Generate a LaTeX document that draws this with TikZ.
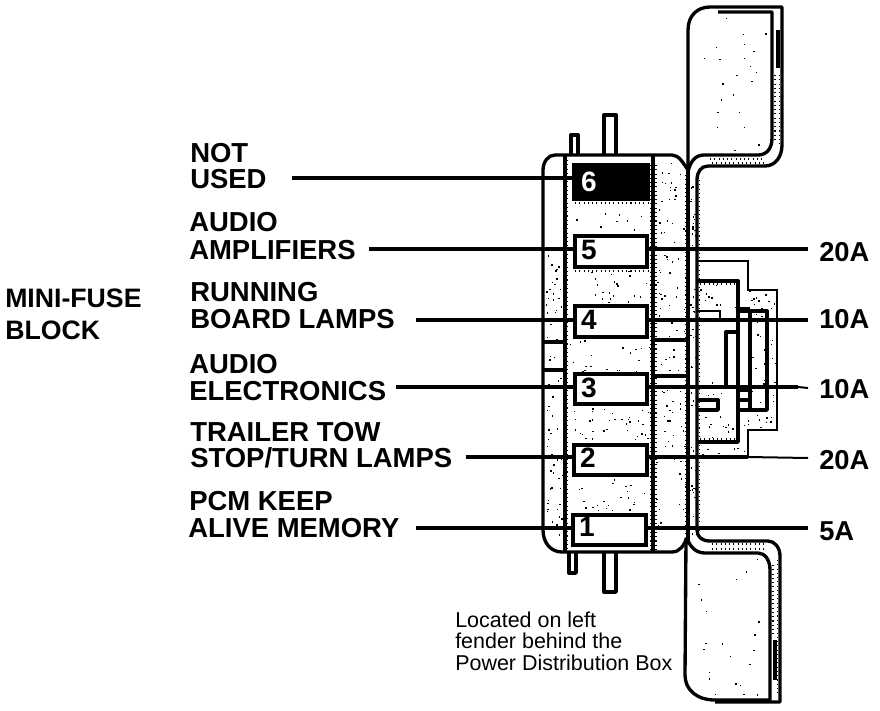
\documentclass[tikz,border=0pt]{standalone}
\usepackage{fontspec}
\setmainfont{Liberation Sans}
\tikzset{
  x=0.75pt,y=-0.75pt,
  ln/.style={draw=black,line width=2.5pt,line join=round},
  thin ln/.style={draw=black,line width=2.2pt,line join=miter},
  lead/.style={draw=black,line width=2.5pt},
  leadthin/.style={draw=black,line width=1.5pt},
  fuse/.style={draw=black,line width=2.8pt,fill=white,minimum width=54.5pt,minimum height=23pt,inner sep=0pt,outer sep=0pt},
  blockfuse/.style={fuse,fill=black,minimum width=56pt,minimum height=25pt},
  digit/.style={inner sep=0pt,font=\bfseries\fontsize{21pt}{21pt}\selectfont},
  lab/.style={anchor=base west,inner sep=0pt,font=\bfseries\fontsize{20.6pt}{20.6pt}\selectfont},
  blk/.style={anchor=base west,inner sep=0pt,font=\bfseries\fontsize{20pt}{20pt}\selectfont},
  amp/.style={anchor=base west,inner sep=0pt,font=\bfseries\fontsize{20.5pt}{20.5pt}\selectfont},
  note/.style={anchor=base west,inner sep=0pt,font=\fontsize{16.1pt}{16.1pt}\selectfont},
  stip/.style={draw=black,line width=0.8pt,dash pattern=on 0.8pt off 2.4pt},
}
\newcommand{\stippled}[5]{%
  \foreach \i in {1,...,#5}{%
    \pgfmathsetmacro\px{#1+rnd*(#3-#1)}%
    \pgfmathsetmacro\py{#2+rnd*(#4-#2)}%
    \fill[black] (\px,\py) rectangle ++(1.4,1.4);
  }}
\begin{document}
\begin{tikzpicture}
\useasboundingbox (0,0) rectangle (880,710);
\pgfmathsetseed{7}
% stipple
\stippled{546}{250}{562}{535}{70}
\stippled{570}{205}{650}{233}{8}
\stippled{590}{270}{650}{303}{22}
\stippled{570}{340}{650}{371}{20}
\stippled{570}{407}{650}{441}{35}
\stippled{570}{479}{650}{511}{22}
\stippled{656}{160}{686}{338}{50}
\stippled{656}{343}{686}{374}{8}
\stippled{656}{380}{686}{545}{40}
\stippled{690}{175}{695}{535}{45}
\stippled{700}{15}{770}{150}{22}
\stippled{695}{557}{768}{695}{22}
\stippled{700}{284}{735}{308}{10}
\stippled{700}{380}{735}{398}{6}
\stippled{700}{413}{735}{439}{10}
\stippled{740}{290}{775}{308}{10}
\stippled{752}{313}{765}{408}{14}
\stippled{770}{295}{775}{425}{12}
\stippled{740}{412}{775}{428}{8}
\stippled{700}{445}{746}{456}{8}
\draw[stip] (567.8,160) -- (567.8,550);
\draw[stip] (650.5,165) -- (650.5,550);
\draw[stip] (656,165) -- (656,550);
\draw[stip] (685.6,175) -- (685.6,535);
\draw[stip] (699.5,180) -- (699.5,530);
\draw[stip] (775,75) -- (775,140);
\draw[stip] (779.5,75) -- (779.5,145);
\draw[stip] (710,159) -- (765,159);
\draw[stip] (712,163) -- (765,163);
\draw[stip] (712,544) -- (765,544);
\draw[stip] (712,549) -- (765,549);
\draw[stip] (773,565) -- (773,635);
\draw[stip] (777.5,560) -- (777.5,695);
\draw[stip] (575,203) -- (648,203);
\draw[stip] (575,271) -- (648,271);
\draw[stip] (700,284) -- (735,284);
\draw[stip] (700,439) -- (735,439);
% tabs
\draw[ln] (571,155) -- (571,135) -- (578,135) -- (578,155);
\draw[ln] (604,155) -- (604,115) -- (616,115) -- (616,155);
\draw[ln] (569,552) -- (569,573) -- (576,573) -- (576,552);
\draw[ln] (604,552) -- (604,592) -- (616,592) -- (616,552);
% main block
\draw[ln] (688,170) .. controls (683,163) and (679,155) .. (672,155) -- (555,155)
  .. controls (548,155) and (543,162) .. (543,170) -- (543,530)
  .. controls (543,543) and (551,552) .. (562,552) -- (672,552)
  .. controls (680,552) and (684,545) .. (687,538);
\draw[ln] (565,155) -- (565,552);
\draw[ln] (653,155) -- (653,552);
\draw[ln] (543,342) -- (565,342);
\draw[ln] (543,370) -- (565,370);
\draw[ln] (653,340) -- (688,340);
\draw[ln] (653,376) -- (688,376);
% flaps
\draw[ln] (688,172) -- (688,30) .. controls (688,15) and (698,7) .. (710,7) -- (782,7) -- (782,145)
  .. controls (782,157) and (775,166) .. (765,166) -- (708,166)
  .. controls (701,166) and (697,172) .. (697,180) -- (697,530)
  .. controls (697,537) and (702,541) .. (710,541) -- (768,541)
  .. controls (775,541) and (780,548) .. (780,556) -- (780,702) -- (715,702);
\draw[ln] (688,172) .. controls (690,162) and (695,155) .. (704,155) -- (758,155)
  .. controls (767,155) and (772,148) .. (772,138) -- (772,12) -- (718,12);
\draw[ln] (688,172) -- (688,540);
\draw[ln] (687,538) .. controls (690,547) and (696,553) .. (705,553) -- (758,553)
  .. controls (765,553) and (770,560) .. (770,570) -- (770,700) -- (715,700)
  .. controls (697,700) and (685,690) .. (685,675) -- (686,538);
\draw[draw=black,line width=3pt] (778,30) -- (778,68);
\draw[draw=black,line width=3pt] (775,640) -- (775,680);
% right connector
\draw[thin ln] (697,261) -- (748,261) -- (748,290) -- (777,290) -- (777,430) -- (748,430) -- (748,458);
\draw[ln] (697,281) -- (738,281) -- (738,442) -- (697,442);
\draw[ln] (738,311) -- (767,311) -- (767,410) -- (738,410);
\draw[ln] (750,309) -- (750,410);
\draw[ln] (738,309) -- (750,309);
\draw[ln] (738,390) -- (750,390);
\draw[ln] (738,400) -- (750,400);
\draw[ln] (738,332) -- (726,332) -- (726,388);
\draw[thin ln] (697,311) -- (720,311) -- (720,320);
\draw[ln] (697,400) -- (718,400) -- (718,410) -- (697,410);
% fuses
\node[blockfuse] (f6) at (611,182) {};
\node[fuse] (f5) at (611,251.5) {};
\node[fuse] (f4) at (611,321.5) {};
\node[fuse] (f3) at (611,389) {};
\node[fuse] (f2) at (610.5,460) {};
\node[fuse] (f1) at (609.5,530) {};
\node[digit,text=white] (n6) at (589,182) {6};
\node[digit] (n5) at (589,250) {5};
\node[digit] (n4) at (589,320) {4};
\node[digit] (n3) at (589,388) {3};
\node[digit] (n2) at (588,458) {2};
\node[digit] (n1) at (587,527) {1};
% labels
\node[lab] (t1) at (190,162) {NOT};
\node[lab] (t1b) at (190,188) {USED};
\node[lab] (t2) at (189,231) {AUDIO};
\node[lab] (t2b) at (189,259) {AMPLIFIERS};
\node[lab] (t3) at (190,301) {RUNNING};
\node[lab] (t3b) at (190,328) {BOARD LAMPS};
\node[lab] (t4) at (189,373) {AUDIO};
\node[lab] (t4b) at (189,400) {ELECTRONICS};
\node[lab] (t5) at (190,441) {TRAILER TOW};
\node[lab] (t5b) at (190,467) {STOP/TURN LAMPS};
\node[lab] (t6) at (189,510) {PCM KEEP};
\node[lab] (t6b) at (188,537) {ALIVE MEMORY};
\node[blk] (mf) at (5,307) {MINI-FUSE};
\node[blk] (mfb) at (5,339) {BLOCK};
% amps
\node[amp] (a5) at (819,261) {20A};
\node[amp] (a4) at (819,328) {10A};
\node[amp] (a3) at (819,398) {10A};
\node[amp] (a2) at (819,469) {20A};
\node[amp] (a1) at (819,540) {5A};
% leaders
\coordinate (l1) at (292,178);
\draw[lead] (l1) -- (f6.west |- l1);
\coordinate (l2) at (369,249);
\draw[lead] (l2) -- (f5.west |- l2);
\coordinate (r5) at (808,249);
\draw[lead] (f5.east |- r5) -- (r5);
\coordinate (l3) at (416,320);
\draw[lead] (l3) -- (f4.west |- l3);
\coordinate (r4) at (808,320);
\draw[lead] (f4.east |- r4) -- (r4);
\coordinate (l4) at (396,387);
\draw[lead] (l4) -- (f3.west |- l4);
\coordinate (r3m) at (798,387);
\coordinate (r3) at (808,388);
\draw[lead] (f3.east |- r3m) -- (r3m);
\draw[leadthin] (r3m) -- (r3);
\coordinate (l5) at (466,457);
\draw[lead] (l5) -- (f2.west |- l5);
\coordinate (r2m) at (748,457);
\coordinate (r2) at (808,458);
\draw[lead] (f2.east |- r2m) -- (r2m);
\draw[leadthin] (r2m) -- (r2);
\coordinate (l6) at (416,528);
\draw[lead] (l6) -- (f1.west |- l6);
\coordinate (r1) at (808,528);
\draw[lead] (f1.east |- r1) -- (r1);
% note
\node[note] (nt1) at (455,627) {Located on left};
\node[note] (nt2) at (455,648) {fender behind the};
\node[note] (nt3) at (455,670) {Power Distribution Box};
\end{tikzpicture}
\end{document}
